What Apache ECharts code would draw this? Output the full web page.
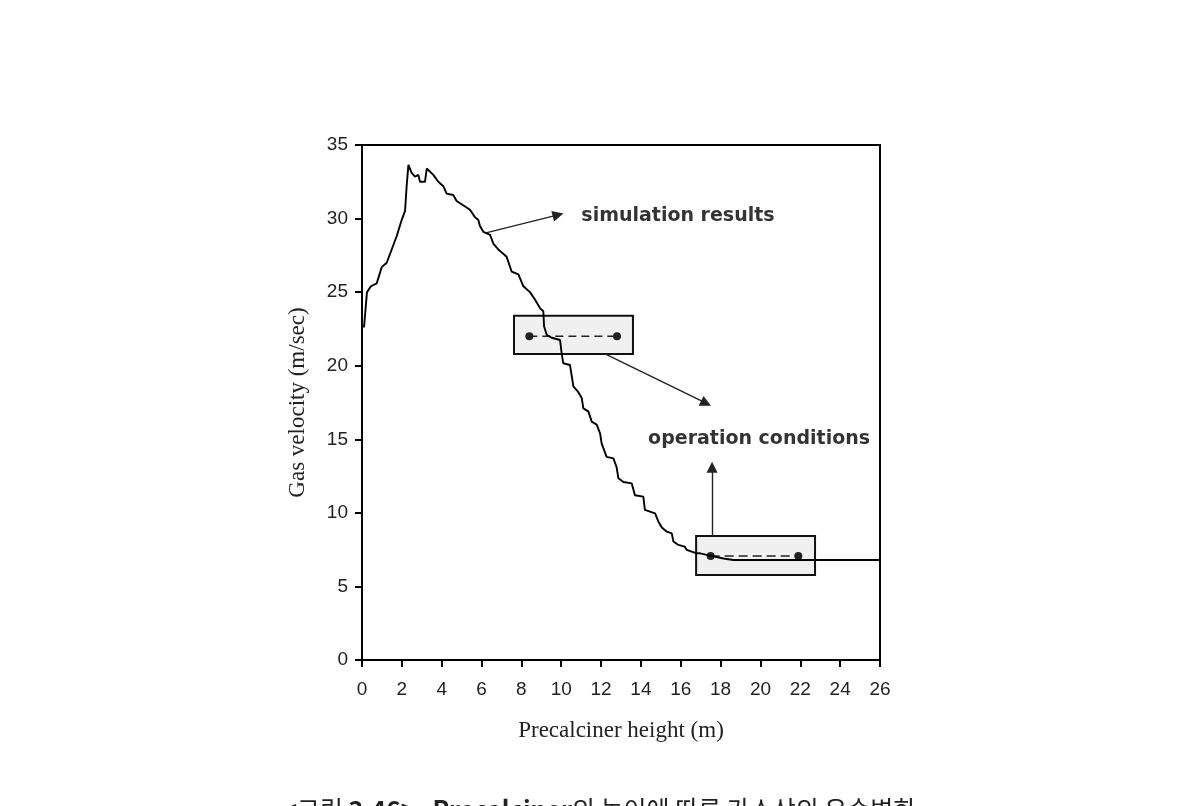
<!DOCTYPE html>
<html>
<head>
<meta charset="utf-8">
<script src="https://cdn.jsdelivr.net/npm/echarts@6/dist/echarts.min.js"></script>
<style>
html,body{margin:0;padding:0;background:#fff;}
#chart{width:1190px;height:806px;}
</style>
</head>
<body>
<div id="chart"></div>
<script>
// Simulation results: precalciner height (m) and gas velocity (m/sec)
const heights = [0.1,0.25,0.45,0.74,0.99,1.24,1.49,1.74,1.99,2.16,2.24,2.33,2.49,2.66,2.83,2.91,3.16,3.25,3.33,3.58,3.83,4.08,4.25,4.58,4.75,5.08,5.42,5.67,5.84,5.92,6.09,6.43,6.59,6.84,7.26,7.51,7.85,8.1,8.43,8.68,8.94,9.1,9.14,9.27,9.52,9.94,10.02,10.1,10.44,10.61,10.86,11.03,11.11,11.36,11.53,11.78,11.95,12.03,12.28,12.62,12.78,12.87,13.12,13.54,13.7,14.12,14.2,14.71,14.88,15.05,15.3,15.55,15.63,15.88,16.2,16.3,16.55,16.8,16.97,17.3,18.14,18.64,20,22,24,26];
const velocities = [22.6,25.0,25.4,25.6,26.7,27.0,27.9,28.8,29.9,30.5,32.2,33.65,33.1,32.85,32.97,32.5,32.5,33.4,33.5,32.97,32.5,32.2,31.7,31.6,31.2,30.9,30.6,30.1,29.9,29.5,29.1,28.9,28.3,27.9,27.4,26.4,26.2,25.4,25.0,24.5,23.9,23.7,22.66,22.1,21.9,21.75,20.85,20.17,20.05,18.6,18.2,17.8,17.1,16.9,16.2,16.0,15.4,14.7,13.8,13.7,13.1,12.35,12.1,12.0,11.2,11.1,10.2,9.97,9.4,9.0,8.72,8.6,8.05,7.82,7.7,7.48,7.36,7.25,7.25,7.14,6.9,6.8,6.8,6.8,6.8,6.8];

// Operation conditions (measured points)
const opUpperX = [8.4, 12.8];
const opUpperY = [22.0, 22.0];
const opLowerX = [17.5, 21.9];
const opLowerY = [7.07, 7.07];

// Annotation geometry in data units
const boxUpper = [[7.63, 23.4], [13.6, 20.8]];
const boxLower = [[16.77, 8.43], [22.74, 5.78]];
const arrowSim = [[6.22, 29.03], [9.84, 30.25]];
const arrowOpUpper = [[12.2, 20.8], [17.27, 17.45]];
const arrowOpLower = [[17.57, 8.43], [17.57, 13.1]];
const labelSim = [15.86, 30.18];
const labelOp = [19.93, 15.02];

// Axis ticks
const xTicks = {min: 0, max: 26, interval: 2};
const yTicks = {min: 0, max: 35, interval: 5};

const simData = heights.map((h, i) => [h, velocities[i]]);
const upperData = opUpperX.map((x, i) => [x, opUpperY[i]]);
const lowerData = opLowerX.map((x, i) => [x, opLowerY[i]]);

const chart = echarts.init(document.getElementById('chart'), null, {renderer: 'canvas'});

const boxStyle = {color: '#f0f0f0', borderColor: '#111', borderWidth: 2, opacity: 1};
const arrowLine = (pts) => [{coord: pts[0]}, {coord: pts[1]}];

chart.setOption({
  animation: false,
  backgroundColor: '#fff',
  grid: {left: 362, right: 310, top: 145, bottom: 146, show: true, borderColor: '#000', borderWidth: 2, backgroundColor: 'transparent'},
  xAxis: {
    type: 'value', min: xTicks.min, max: xTicks.max, interval: xTicks.interval,
    name: 'Precalciner height (m)', nameLocation: 'middle', nameGap: 59,
    nameTextStyle: {fontFamily: 'Liberation Serif', fontSize: 23, color: '#222'},
    axisLine: {show: true, onZero: false, lineStyle: {color: '#000', width: 2}},
    axisTick: {show: true, length: 7, inside: false, lineStyle: {color: '#000', width: 2}},
    axisLabel: {margin: 20, fontFamily: 'Liberation Sans', fontSize: 19, color: '#222'},
    splitLine: {show: false}
  },
  yAxis: {
    type: 'value', min: yTicks.min, max: yTicks.max, interval: yTicks.interval,
    name: 'Gas velocity (m/sec)', nameLocation: 'middle', nameGap: 53,
    nameTextStyle: {fontFamily: 'Liberation Serif', fontSize: 23, color: '#222'},
    axisLine: {show: true, onZero: false, lineStyle: {color: '#000', width: 2}},
    axisTick: {show: true, length: 7, inside: false, lineStyle: {color: '#000', width: 2}},
    axisLabel: {margin: 14, fontFamily: 'Liberation Sans', fontSize: 19, color: '#222'},
    splitLine: {show: false}
  },
  series: [
    {
      type: 'line', z: 1, data: [], silent: true,
      markArea: {silent: true, itemStyle: boxStyle, data: [
        [{coord: boxUpper[0]}, {coord: boxUpper[1]}],
        [{coord: boxLower[0]}, {coord: boxLower[1]}]
      ]},
      markLine: {silent: true, symbol: ['none', 'triangle'], symbolSize: [11, 11],
        lineStyle: {color: '#222', width: 1.4, type: 'solid'}, label: {show: false},
        data: [arrowLine(arrowSim), arrowLine(arrowOpUpper), arrowLine(arrowOpLower)]}
    },
    {
      name: 'simulation results', type: 'line', z: 5, data: simData,
      showSymbol: false, symbol: 'none',
      lineStyle: {color: '#000', width: 1.9}
    },
    {
      type: 'line', z: 4, data: upperData, symbol: 'circle', symbolSize: 8,
      itemStyle: {color: '#222'}, lineStyle: {color: '#222', width: 1.4, type: [8, 5]}
    },
    {
      type: 'line', z: 4, data: lowerData, symbol: 'circle', symbolSize: 8,
      itemStyle: {color: '#222'}, lineStyle: {color: '#222', width: 1.6, type: [9, 5]}
    },
    {
      type: 'scatter', z: 6, symbolSize: 1, itemStyle: {color: 'rgba(0,0,0,0)'},
      data: [
        {value: labelSim, label: {formatter: 'simulation results'}},
        {value: labelOp, label: {formatter: 'operation conditions'}}
      ],
      label: {show: true, position: 'inside', fontFamily: 'DejaVu Sans', fontWeight: 'bold', fontSize: 19, color: '#000'}
    }
  ],
  graphic: [{
    type: 'text', left: 283, top: 797, silent: true,
    style: {
      text: '{n|<그림 }{b|3.46>}{n|   }{b|Precalciner}{n|의 높이에 따른 가스상의 유속변화}',
      rich: {
        n: {fontFamily: 'Noto Sans CJK KR', fontSize: 25, fill: '#222'},
        b: {fontFamily: 'Noto Sans CJK KR', fontSize: 25, fontWeight: 'bold', fill: '#222'}
      }
    }
  }]
});
</script>
</body>
</html>
